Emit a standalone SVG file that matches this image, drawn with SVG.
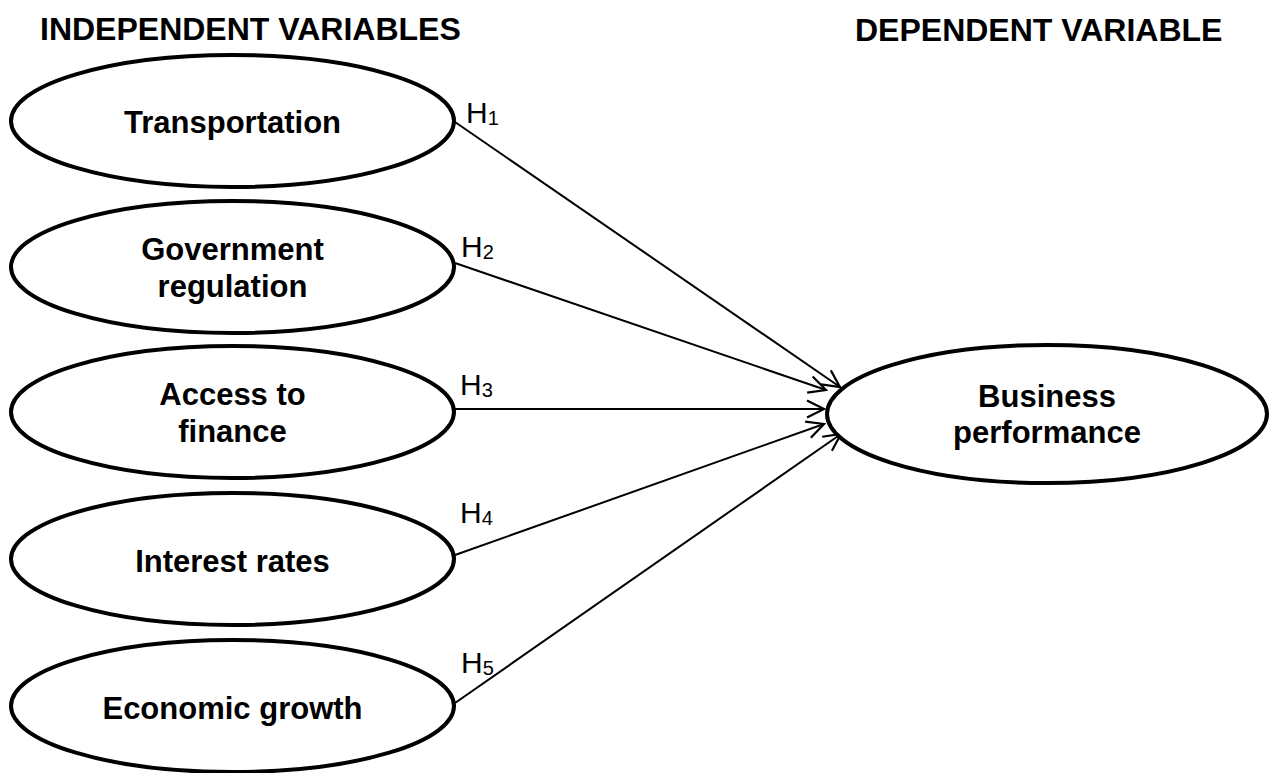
<svg xmlns="http://www.w3.org/2000/svg" width="1269" height="773" viewBox="0 0 1269 773">
<style>
  .node ellipse { fill: #ffffff; stroke: #000000; stroke-width: 4; }
  .lbl { font-family: "Liberation Sans", Arial, sans-serif; font-weight: bold; font-size: 31px; text-anchor: middle; fill: #000; }
  .hdr { font-family: "Liberation Sans", Arial, sans-serif; font-weight: bold; font-size: 32px; fill: #000; }
  .h { font-family: "Liberation Sans", Arial, sans-serif; font-size: 30px; fill: #000; }
  .sub { font-size: 20px; }
  .conn line { stroke: #000; stroke-width: 2; marker-end: url(#arr); }
</style>
<defs>
  <marker id="arr" viewBox="0 0 20 20" refX="18" refY="10" markerWidth="20" markerHeight="20" markerUnits="userSpaceOnUse" orient="auto">
    <path d="M1,1.5 L18,10 L1,18.5" fill="none" stroke="#000" stroke-width="2.2"/>
  </marker>
</defs>
<rect width="1269" height="773" fill="#ffffff"/>

<text class="hdr" x="40" y="40">INDEPENDENT VARIABLES</text>
<text class="hdr" x="855" y="41">DEPENDENT VARIABLE</text>

<g id="connectors" class="conn">
  <line x1="455" y1="122" x2="840" y2="387"/>
  <line x1="455" y1="263" x2="826" y2="390"/>
  <line x1="454" y1="409" x2="824" y2="409"/>
  <line x1="455" y1="555" x2="824" y2="424"/>
  <line x1="455" y1="703" x2="841" y2="434"/>
</g>

<g id="node-transportation" class="node">
  <ellipse cx="232.5" cy="121" rx="221.5" ry="66"/>
  <text class="lbl" x="232.5" y="133">Transportation</text>
</g>
<g id="node-government" class="node">
  <ellipse cx="232.5" cy="267" rx="221.5" ry="66"/>
  <text class="lbl" x="232.5" y="260">Government</text>
  <text class="lbl" x="232.5" y="297">regulation</text>
</g>
<g id="node-finance" class="node">
  <ellipse cx="232.5" cy="412" rx="221.5" ry="66"/>
  <text class="lbl" x="232.5" y="405">Access to</text>
  <text class="lbl" x="232.5" y="442">finance</text>
</g>
<g id="node-interest" class="node">
  <ellipse cx="232.5" cy="559" rx="221.5" ry="66"/>
  <text class="lbl" x="232.5" y="572">Interest rates</text>
</g>
<g id="node-economic" class="node">
  <ellipse cx="232.5" cy="706" rx="221.5" ry="66"/>
  <text class="lbl" x="232.5" y="719">Economic growth</text>
</g>
<g id="node-business" class="node">
  <ellipse cx="1047" cy="414" rx="220" ry="69"/>
  <text class="lbl" x="1047" y="407">Business</text>
  <text class="lbl" x="1047" y="443">performance</text>
</g>

<g id="hypotheses">
  <text class="h" x="466" y="123">H<tspan class="sub" dy="2">1</tspan></text>
  <text class="h" x="461" y="257">H<tspan class="sub" dy="2">2</tspan></text>
  <text class="h" x="460" y="395">H<tspan class="sub" dy="2">3</tspan></text>
  <text class="h" x="460" y="523">H<tspan class="sub" dy="2">4</tspan></text>
  <text class="h" x="461" y="673">H<tspan class="sub" dy="2">5</tspan></text>
</g>
</svg>
